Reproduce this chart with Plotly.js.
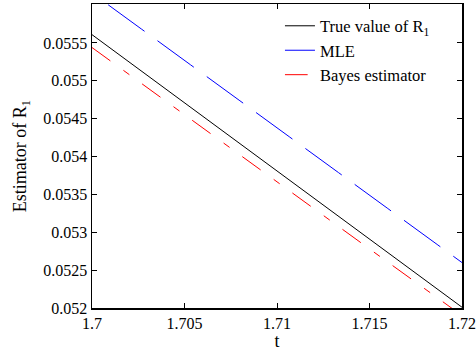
<!DOCTYPE html>
<html>
<head>
<meta charset="utf-8">
<script src="https://cdn.plot.ly/plotly-3.0.1.min.js"></script>
<style>
html,body{margin:0;padding:0;background:#fff;}
#chart{width:476px;height:351px;}
</style>
</head>
<body>
<div id="chart"></div>
<script>
// Data
var tValues = [1.700, 1.705, 1.710, 1.715, 1.720];
var trueR1 = [0.05561, 0.05471, 0.05381, 0.05291, 0.05201];
var mleR1 = [0.05616, 0.05527, 0.05438, 0.05349, 0.05260];
var bayesR1 = [0.05544, 0.05455, 0.05367, 0.05278, 0.05190];

var seriesNames = ['True value of R<sub>1</sub>', 'MLE', 'Bayes estimator'];

var xTickVals = [1.7, 1.705, 1.71, 1.715, 1.72];
var xTickText = ['1.7', '1.705', '1.71', '1.715', '1.72'];
var yTickVals = [0.052, 0.0525, 0.053, 0.0535, 0.054, 0.0545, 0.055, 0.0555];
var yTickText = ['0.052', '0.0525', '0.053', '0.0535', '0.054', '0.0545', '0.055', '0.0555'];

var FONT = 'Liberation Serif';

var traces = [
  {x: tValues, y: trueR1, mode: 'lines', showlegend: false,
   line: {color: '#000000', width: 1}},
  {x: tValues, y: mleR1, mode: 'lines', showlegend: false,
   line: {color: '#0000ff', width: 1, dash: '4px,16px,41px,0px'}},
  {x: tValues, y: bayesR1, mode: 'lines', showlegend: false,
   line: {color: '#ff0000', width: 1, dash: '22.7px,16.1px,7.4px,15.7px'}},
  // legend entries
  {x: [null], y: [null], mode: 'lines', name: seriesNames[0],
   line: {color: '#000000', width: 1}},
  {x: [null], y: [null], mode: 'lines', name: seriesNames[1],
   line: {color: '#0000ff', width: 1}},
  {x: [null], y: [null], mode: 'lines', name: seriesNames[2],
   line: {color: '#ff0000', width: 1, dash: '22.7px,16.1px,7.4px,15.7px'}}
];

var layout = {
  width: 476, height: 351,
  margin: {l: 92, r: 14, t: 4, b: 43},
  paper_bgcolor: '#ffffff', plot_bgcolor: '#ffffff',
  font: {family: FONT, size: 16, color: '#000000'},
  showlegend: true,
  legend: {
    x: 0.508, y: 0.985, xanchor: 'left', yanchor: 'top',
    bgcolor: 'rgba(255,255,255,0)', borderwidth: 0,
    font: {family: FONT, size: 16.5, color: '#000000'},
    tracegroupgap: 0
  },
  xaxis: {
    range: [1.7, 1.72],
    tickvals: xTickVals, ticktext: xTickText,
    ticks: 'inside', ticklen: 5, tickwidth: 1, tickcolor: '#000',
    showline: true, linecolor: '#000', linewidth: 1.5, mirror: 'ticks',
    showgrid: false, zeroline: false,
    tickfont: {family: FONT, size: 16, color: '#000'},
    title: {text: 't', font: {family: FONT, size: 18}, standoff: 4}
  },
  yaxis: {
    range: [0.052, 0.056015],
    tickvals: yTickVals, ticktext: yTickText,
    ticks: 'inside', ticklen: 5, tickwidth: 1, tickcolor: '#000',
    showline: true, linecolor: '#000', linewidth: 1.5, mirror: 'ticks',
    showgrid: false, zeroline: false,
    tickfont: {family: FONT, size: 16, color: '#000'},
    title: {text: 'Estimator of R<sub>1</sub>', font: {family: FONT, size: 18}, standoff: 12}
  }
};

Plotly.newPlot('chart', traces, layout, {displayModeBar: false, staticPlot: true});
</script>
</body>
</html>
